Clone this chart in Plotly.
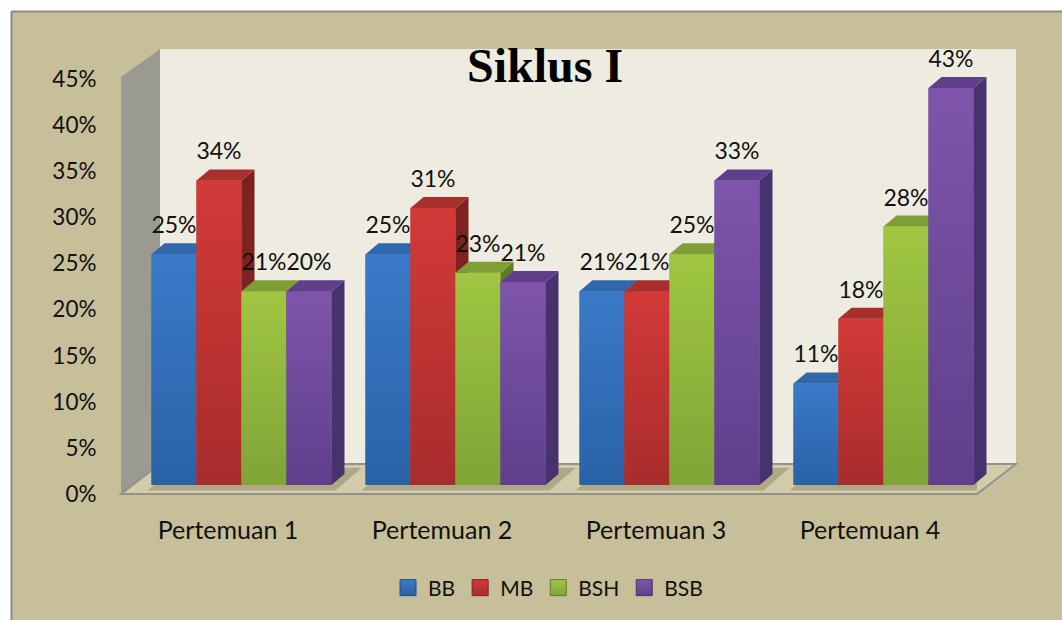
import plotly.graph_objects as go

categories = ["Pertemuan 1", "Pertemuan 2", "Pertemuan 3", "Pertemuan 4"]
series_names = ["BB", "MB", "BSH", "BSB"]
bb_heights = [25, 25, 21, 11]
mb_heights = [33, 30, 21, 18]
bsh_heights = [21, 23, 25, 28]
bsb_heights = [21, 22, 33, 43]
bb_labels = ["25%", "25%", "21%", "11%"]
mb_labels = ["34%", "31%", "21%", "18%"]
bsh_labels = ["21%", "23%", "25%", "28%"]
bsb_labels = ["20%", "21%", "33%", "43%"]
heights = [bb_heights, mb_heights, bsh_heights, bsb_heights]
labels = [bb_labels, mb_labels, bsh_labels, bsb_labels]
front_top = ["#3a7ac8", "#d23a38", "#a0c642", "#7e55aa"]
front_bottom = ["#2a62a6", "#a82c2c", "#80a436", "#5f3f8c"]
front_mid = ["#3270b8", "#c03434", "#92b63c", "#6f4a9c"]
top_col = ["#3168ac", "#a92f2d", "#7f9e36", "#5f3f8a"]
side_col = ["#234d84", "#7c2320", "#5f7a2a", "#46336e"]

W, H = 1062, 620
BG = "#c6bf9a"
FONT = "Lato"
TXT = "#111111"
FX0, FX1, FY0, FY1 = 121, 977, 494, 79
DX = 13.5
BAR_Y0, BAR_PX_PER_PCT = 485, 9.23
BAR_TOP_PCT = 50


def px_x(p):
    return p / W


def px_y(p):
    return 1 - p / H


def poly(points):
    return "M" + " L".join(f"{px_x(a)},{px_y(b)}" for a, b in points) + " Z"


fig = go.Figure()

layout = dict(
    width=W, height=H, margin=dict(l=0, r=0, t=0, b=0, autoexpand=False), paper_bgcolor="white",
    plot_bgcolor="rgba(0,0,0,0)", showlegend=True,
    font=dict(family=FONT, size=23, color=TXT),
    xaxis=dict(domain=[px_x(FX0), px_x(FX1)], range=[-0.5, 3.5], tickmode="array", tickvals=[0, 1, 2, 3],
               ticktext=categories, showgrid=False, zeroline=False, showline=False, ticks="outside", ticklen=14,
               tickcolor="rgba(0,0,0,0)", anchor="y", fixedrange=True, tickfont=dict(family=FONT, size=25, color=TXT)),
    yaxis=dict(domain=[px_y(FY0), px_y(FY1)], range=[0, 45], tickmode="array", tickvals=list(range(0, 50, 5)),
               ticktext=[f"{v}%" for v in range(0, 50, 5)], showgrid=False, zeroline=False, showline=False,
               ticks="outside", ticklen=19, tickcolor="rgba(0,0,0,0)", anchor="x", fixedrange=True,
               tickfont=dict(family=FONT, size=22.5, color=TXT)),
    legend=dict(orientation="h", x=px_x(388), xanchor="left", y=px_y(588),
                yanchor="middle", bgcolor="rgba(0,0,0,0)", font=dict(family=FONT, size=21, color=TXT),
                traceorder="normal", itemclick=False, itemdoubleclick=False, itemsizing="trace"),
    annotations=[dict(text="<b>Siklus I</b>", x=px_x(545), y=px_y(65), xref="paper", yref="paper", showarrow=False,
                      xanchor="center", yanchor="middle",
                      font=dict(family="Liberation Serif", size=48, color="#000000"))],
)

layout["shapes"] = [
    dict(type="rect", xref="paper", yref="paper", x0=px_x(11), x1=1, y0=0, y1=px_y(11), fillcolor=BG,
         line=dict(width=0), layer="below"),
    dict(type="line", xref="paper", yref="paper", x0=px_x(11.5), x1=1, y0=px_y(11.5), y1=px_y(11.5),
         line=dict(color="#8a8a86", width=2), layer="below"),
    dict(type="line", xref="paper", yref="paper", x0=px_x(11.5), x1=px_x(11.5), y0=0, y1=px_y(11.5),
         line=dict(color="#8a8a86", width=2), layer="below"),
    dict(type="path", xref="paper", yref="paper", layer="below", fillcolor="#eeece1", line=dict(width=0),
         path=poly([(160, 49), (1016, 49), (1016, 464), (160, 464)])),
    dict(type="path", xref="paper", yref="paper", layer="below", fillcolor="#9a9a90", line=dict(width=0),
         path=poly([(121, 77), (160, 49), (160, 464), (121, 494)])),
    dict(type="path", xref="paper", yref="paper", layer="below", fillcolor="#d2ccaa",
         line=dict(color="#92928e", width=2), path=poly([(121, 494), (160, 464), (1016, 464), (977, 494)])),
]

bar_dom_x = [px_x(FX0 + DX), px_x(FX1 + DX)]
bar_dom_y = [px_y(BAR_Y0), px_y(BAR_Y0 - BAR_TOP_PCT * BAR_PX_PER_PCT)]
group_width = 180 / 214
bar_w = group_width / 4
dep_x = 13 / 214
dep_y = 11 / BAR_PX_PER_PCT

fig.add_trace(go.Scatter(x=[0, 1, 2, 3], y=[0, 0, 0, 0], mode="markers", marker=dict(opacity=0), showlegend=False,
                         hoverinfo="skip", xaxis="x", yaxis="y"))
px_cat = 1 / 214
px_pct = 45 / (FY0 - FY1)
for c in range(4):
    l = c - group_width / 2 + DX * px_cat
    r = c + group_width / 2 + DX * px_cat
    sx = [l - 4 * px_cat, r + 4 * px_cat, r + 30 * px_cat, l + 24 * px_cat, l - 4 * px_cat]
    sy = [3.5 * px_pct, 3.5 * px_pct, 26 * px_pct, 26 * px_pct, 3.5 * px_pct]
    fig.add_trace(go.Scatter(x=sx, y=sy, mode="lines", line=dict(width=0), fill="toself",
                             fillcolor="rgba(120,110,70,0.38)", showlegend=False, hoverinfo="skip",
                             xaxis="x", yaxis="y"))

for i, name in enumerate(series_names):
    n = i + 2
    xa, ya = f"x{n}", f"y{n}"
    xax = dict(domain=bar_dom_x, range=[-0.5, 3.5], visible=False, anchor=ya, fixedrange=True)
    yax = dict(domain=bar_dom_y, range=[0, BAR_TOP_PCT], visible=False, anchor=xa, fixedrange=True)
    if i > 0:
        xax["overlaying"] = "x2"
        yax["overlaying"] = "y2"
    layout[f"xaxis{n}"] = xax
    layout[f"yaxis{n}"] = yax
    off = -group_width / 2 + i * bar_w
    fig.add_trace(go.Bar(x=[0, 1, 2, 3], y=heights[i], name=name, width=bar_w, offset=off,
                         marker=dict(color=front_mid[i], line=dict(width=0)), hoverinfo="skip",
                         showlegend=False, xaxis=xa, yaxis=ya))
    for c, h in enumerate(heights[i]):
        l = c + off
        r = l + bar_w
        fig.add_trace(go.Scatter(x=[l, r, r, l, l], y=[0, 0, h, h, 0], mode="lines", line=dict(width=0), fill="toself",
                                 fillgradient=dict(type="vertical", start=0, stop=h,
                                                   colorscale=[[0, front_bottom[i]], [1, front_top[i]]]),
                                 showlegend=False, hoverinfo="skip", xaxis=xa, yaxis=ya))
        fig.add_trace(go.Scatter(x=[r, r + dep_x, r + dep_x, r, r], y=[0, dep_y, h + dep_y, h, 0], mode="lines",
                                 line=dict(width=0), fill="toself", fillcolor=side_col[i], showlegend=False,
                                 hoverinfo="skip", xaxis=xa, yaxis=ya))
        fig.add_trace(go.Scatter(x=[l, r, r + dep_x, l + dep_x, l], y=[h, h, h + dep_y, h + dep_y, h], mode="lines",
                                 line=dict(width=0), fill="toself", fillcolor=top_col[i], showlegend=False,
                                 hoverinfo="skip", xaxis=xa, yaxis=ya))
    fig.add_trace(go.Scatter(x=[None], y=[None], mode="markers", name=name,
                             marker=dict(symbol="square", size=16, color=front_top[i],
                                         gradient=dict(type="vertical", color=front_bottom[i]),
                                         line=dict(color=side_col[i], width=1)),
                             hoverinfo="skip", xaxis=xa, yaxis=ya))

last = len(series_names) + 1
for i in range(4):
    off = -group_width / 2 + i * bar_w + bar_w / 2
    fig.add_trace(go.Scatter(x=[c + off for c in range(4)], y=[h + 2.9 for h in heights[i]], mode="text", text=labels[i],
                             textposition="middle center", textfont=dict(family=FONT, size=23, color=TXT),
                             cliponaxis=False, showlegend=False, hoverinfo="skip", xaxis=f"x{last}", yaxis=f"y{last}"))

fig.update_layout(**layout)
fig.write_html("out.html", config=dict(displayModeBar=False), post_script=(
    "document.documentElement.style.overflow='hidden';document.body.style.margin='0';"
    "var g=document.getElementById('{plot_id}');g.style.position='fixed';g.style.left='0';g.style.top='0';"
))
